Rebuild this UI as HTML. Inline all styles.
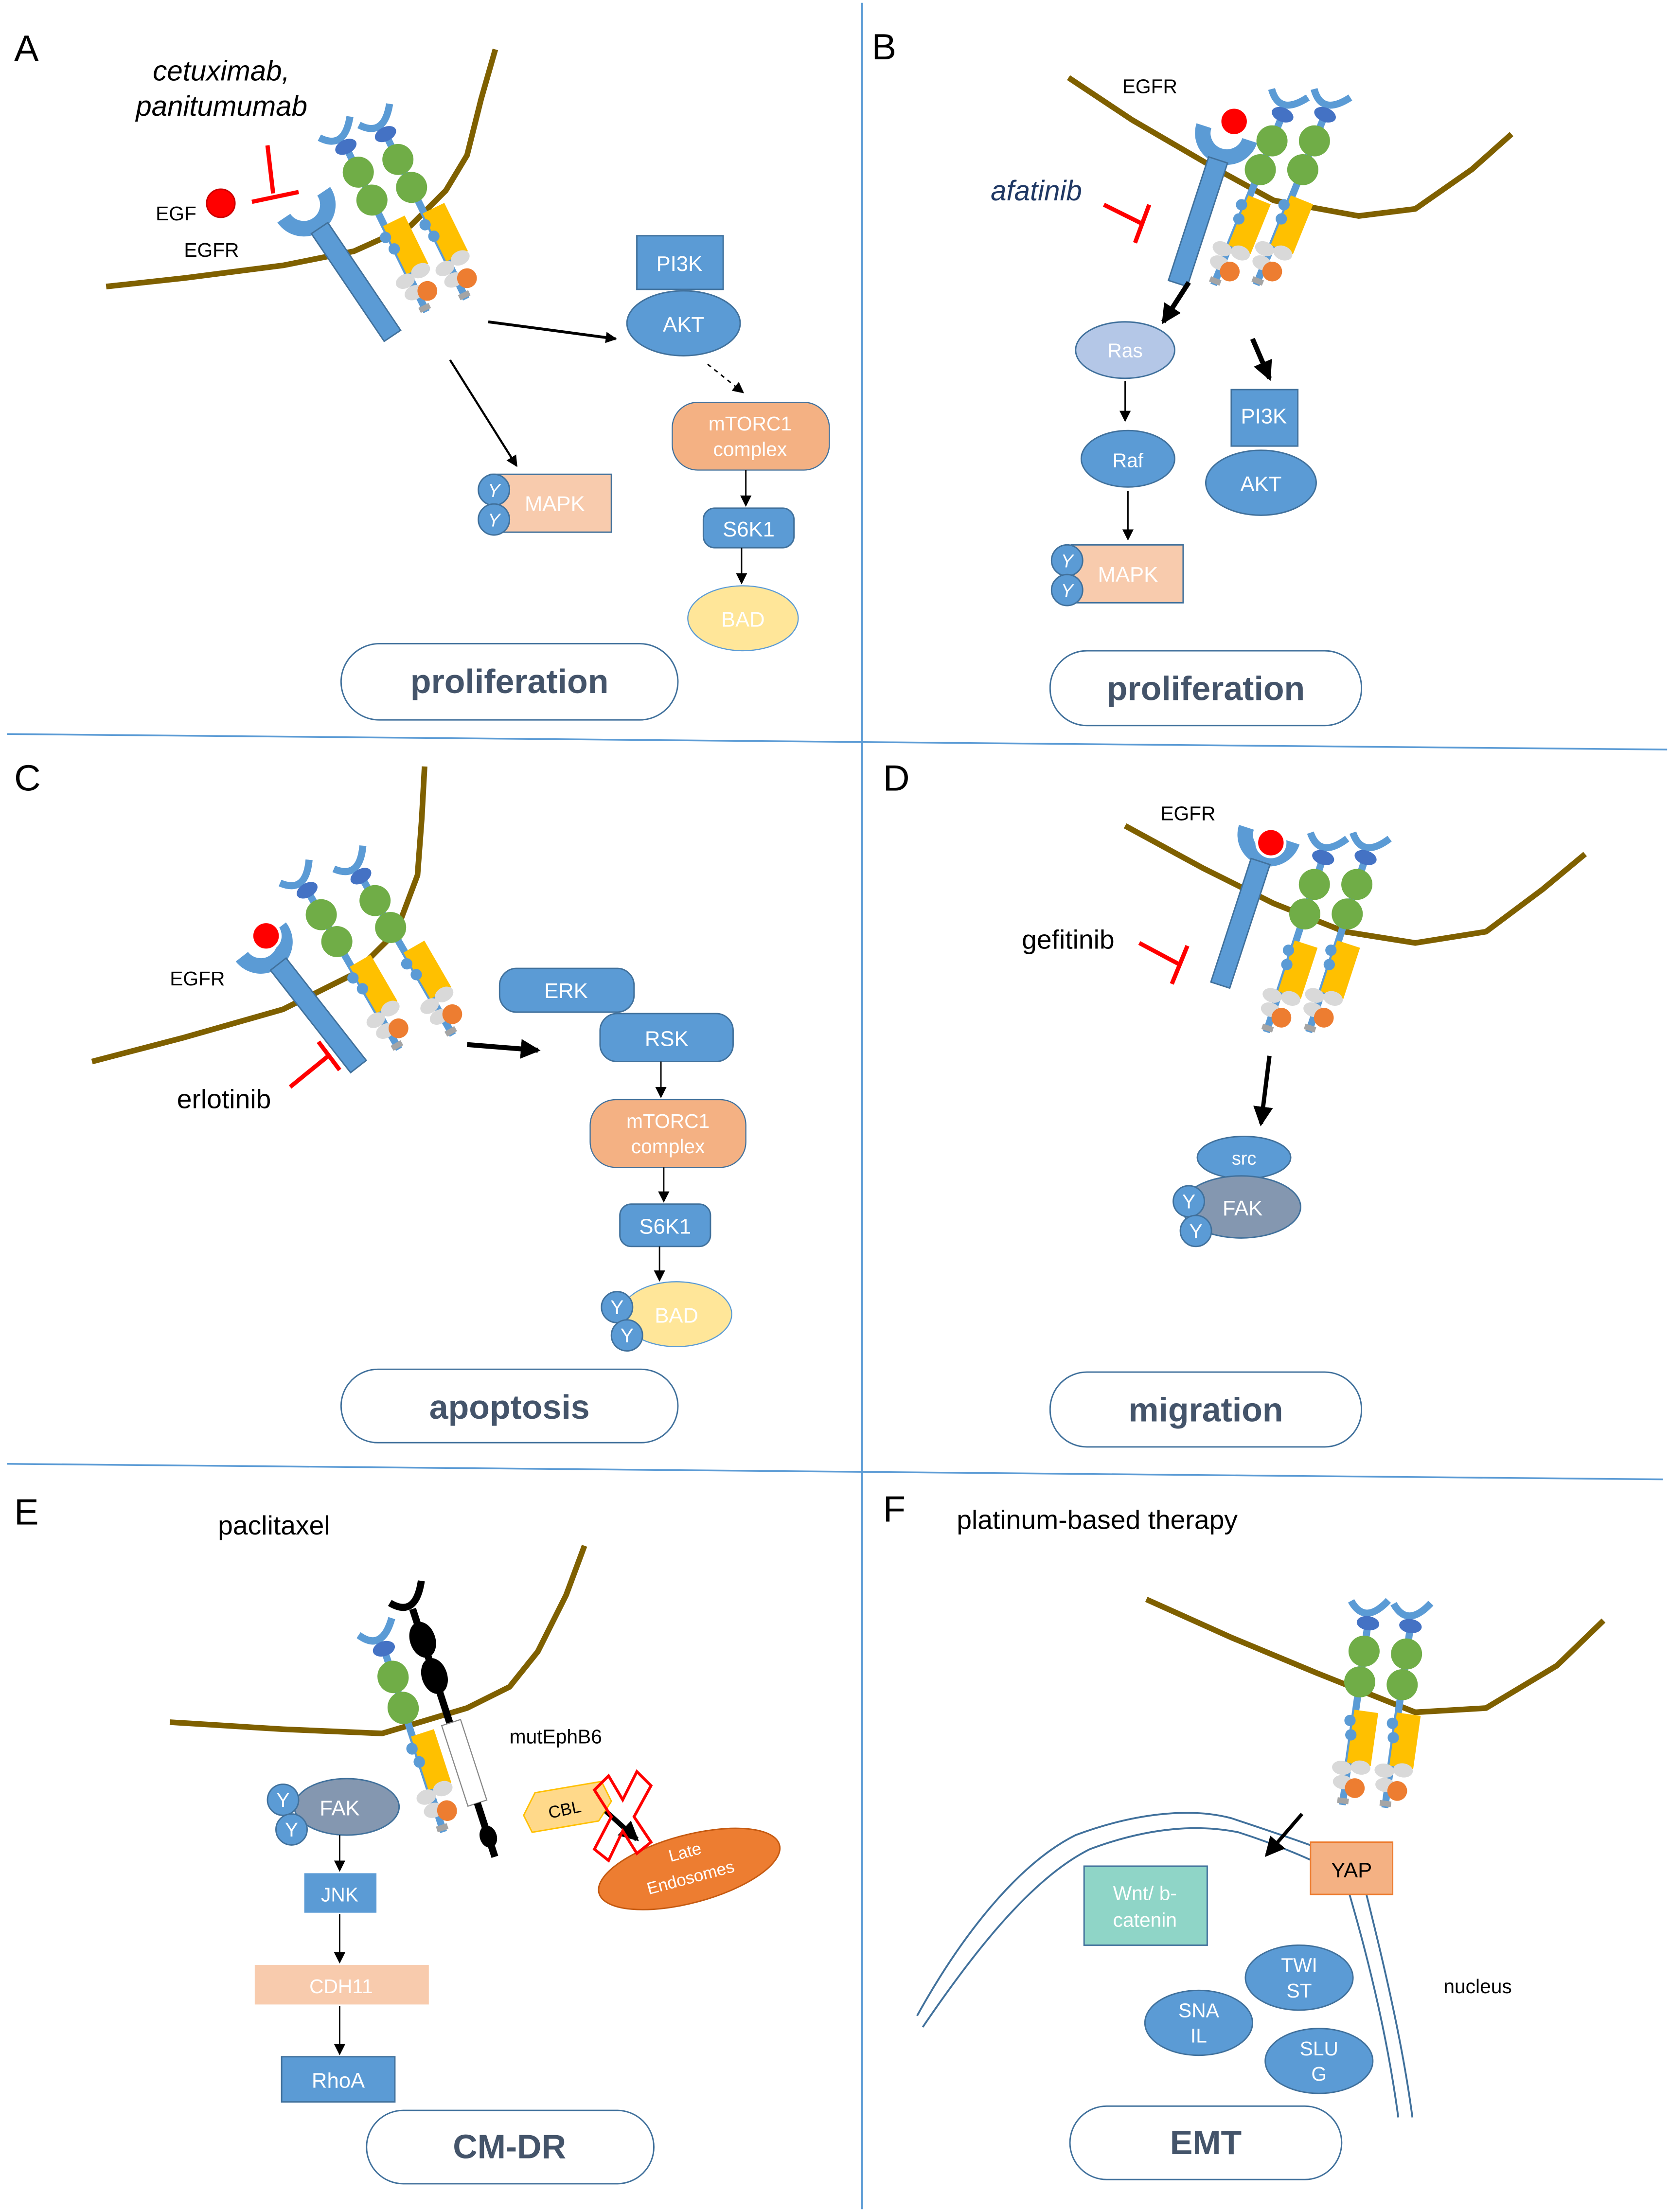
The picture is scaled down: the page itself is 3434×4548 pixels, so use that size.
<!DOCTYPE html>
<html><head><meta charset="utf-8"><style>
html,body{margin:0;padding:0;background:#fff}
svg{display:block}
text{font-family:"Liberation Sans",sans-serif}
</style></head><body>
<svg width="3434" height="4548" viewBox="0 0 1180 1567" preserveAspectRatio="none" xmlns="http://www.w3.org/2000/svg">
<defs>
<marker id="ar" markerWidth="8" markerHeight="8" refX="7" refY="4" orient="auto" markerUnits="userSpaceOnUse"><path d="M0,0 L8,4 L0,8 z" fill="#000"/></marker>
<marker id="arb" markerWidth="14" markerHeight="14" refX="12" refY="7" orient="auto" markerUnits="userSpaceOnUse"><path d="M0,0 L14,7 L0,14 z" fill="#000"/></marker>
<g id="mono">
<path d="M-14,-4 Q-2,12 12,-8" stroke="#5b9bd5" stroke-width="5" fill="none"/>
<line x1="0" y1="8" x2="0" y2="140" stroke="#5b9bd5" stroke-width="5"/>
<ellipse cx="0" cy="10" rx="8" ry="5" fill="#4472c4"/>
<circle cx="0" cy="30" r="11" fill="#70ad47"/>
<circle cx="0" cy="52" r="11" fill="#70ad47"/>
<rect x="-1" y="72" width="17" height="38" fill="#ffc000"/>
<circle cx="-3" cy="80" r="4" fill="#5b9bd5"/><circle cx="-1" cy="90" r="4" fill="#5b9bd5"/>
<ellipse cx="-4" cy="114" rx="7" ry="5" fill="#d9d9d9"/><ellipse cx="9" cy="112" rx="7" ry="5" fill="#d9d9d9"/><ellipse cx="-2" cy="124" rx="7" ry="5" fill="#d9d9d9"/>
<circle cx="7" cy="127" r="7" fill="#ed7d31"/>
<rect x="-4" y="135" width="8" height="4" fill="#a5a5a5"/>
</g>
<g id="egfr">
<path d="M-17,-6 A17,17 0 1 0 17,-6" stroke="#5b9bd5" stroke-width="11" fill="none"/>
<rect x="-7" y="14" width="14" height="92" fill="#5b9bd5" stroke="#41719c" stroke-width="1"/>
</g>
</defs>
<g stroke="#5b9bd5" stroke-width="1.2" fill="none">
<line x1="609" y1="2" x2="609" y2="1565"/>
<line x1="5" y1="520" x2="1178" y2="531"/>
<line x1="5" y1="1037" x2="1175" y2="1048"/>
</g>
<g font-size="26" fill="#000">
<text x="10" y="43">A</text><text x="616" y="42">B</text><text x="10" y="560">C</text><text x="624" y="560">D</text><text x="10" y="1080">E</text><text x="624" y="1078">F</text>
</g>
<g fill="none" stroke="#7f6000" stroke-width="4" stroke-linejoin="round">
<polyline points="75,203 130,197 200,188 250,178 290,160 315,135 330,110 340,70 350,35"/>
<polyline points="755,55 800,85 860,120 900,142 960,153 1000,148 1040,120 1068,95"/>
<polyline points="65,752 130,735 200,715 250,690 280,660 295,620 298,580 300,543"/>
<polyline points="795,585 850,615 900,640 950,660 1000,668 1050,660 1090,630 1120,605"/>
<polyline points="120,1220 200,1225 270,1228 330,1210 360,1195 380,1170 400,1130 413,1095"/>
<polyline points="810,1133 870,1160 930,1185 1000,1213 1050,1210 1100,1180 1133,1148"/>
</g>
<g fill="#fff" stroke="#41719c" stroke-width="1">
<rect x="241" y="456" width="238" height="54" rx="27"/>
<rect x="742" y="461" width="220" height="53" rx="26"/>
<rect x="241" y="970" width="238" height="52" rx="26"/>
<rect x="742" y="972" width="220" height="53" rx="26"/>
<rect x="259" y="1495" width="203" height="52" rx="26"/>
<rect x="756" y="1492" width="192" height="52" rx="26"/>
</g>
<g font-size="24" font-weight="bold" fill="#44546a" text-anchor="middle">
<text x="360" y="491">proliferation</text><text x="852" y="496">proliferation</text>
<text x="360" y="1005">apoptosis</text><text x="852" y="1007">migration</text>
<text x="360" y="1529">CM-DR</text><text x="852" y="1526">EMT</text>
</g>
<!-- Panel A -->
<text x="108" y="57" font-size="20" font-style="italic">cetuximab,</text>
<text x="96" y="82" font-size="20" font-style="italic">panitumumab</text>
<text x="110" y="156" font-size="14">EGF</text>
<circle cx="156" cy="144" r="10" fill="#f00" stroke="#c00"/>
<text x="130" y="182" font-size="14">EGFR</text>
<line x1="189" y1="103" x2="193" y2="137" stroke="#f00" stroke-width="3"/>
<line x1="178" y1="143" x2="211" y2="136" stroke="#f00" stroke-width="3"/>
<use href="#egfr" transform="translate(218,150) rotate(-34)"/>
<use href="#mono" transform="translate(240,95) rotate(-26)"/>
<use href="#mono" transform="translate(268,86) rotate(-26)"/>
<line x1="345" y1="228" x2="435" y2="240" stroke="#000" stroke-width="2" marker-end="url(#ar)"/>
<line x1="318" y1="255" x2="365" y2="330" stroke="#000" stroke-width="1.5" marker-end="url(#ar)"/>
<rect x="450" y="167" width="61" height="38" fill="#5b9bd5" stroke="#41719c"/>
<text x="480" y="192" font-size="15" fill="#fff" text-anchor="middle">PI3K</text>
<ellipse cx="483" cy="229" rx="40" ry="23" fill="#5b9bd5" stroke="#41719c"/>
<text x="483" y="235" font-size="15" fill="#fff" text-anchor="middle">AKT</text>
<line x1="500" y1="258" x2="525" y2="278" stroke="#000" stroke-width="1" stroke-dasharray="3,3" marker-end="url(#ar)"/>
<rect x="475" y="285" width="111" height="48" rx="18" fill="#f4b183" stroke="#41719c" stroke-width="0.8"/>
<text x="530" y="305" font-size="14" fill="#fff" text-anchor="middle">mTORC1</text>
<text x="530" y="323" font-size="14" fill="#fff" text-anchor="middle">complex</text>
<line x1="527" y1="333" x2="527" y2="358" stroke="#000" stroke-width="1" marker-end="url(#ar)"/>
<rect x="497" y="360" width="64" height="28" rx="8" fill="#5b9bd5" stroke="#41719c"/>
<text x="529" y="380" font-size="15" fill="#fff" text-anchor="middle">S6K1</text>
<line x1="524" y1="388" x2="524" y2="413" stroke="#000" stroke-width="1" marker-end="url(#ar)"/>
<ellipse cx="525" cy="438" rx="39" ry="23" fill="#ffe699" stroke="#5b9bd5" stroke-width="0.8"/>
<text x="525" y="444" font-size="15" fill="#fff" text-anchor="middle">BAD</text>
<rect x="347" y="336" width="85" height="41" fill="#f8cbad" stroke="#41719c"/>
<text x="392" y="362" font-size="15" fill="#fff" text-anchor="middle">MAPK</text>
<g fill="#5b9bd5" stroke="#41719c"><circle cx="349" cy="347" r="11"/><circle cx="349" cy="368" r="11"/></g>
<g font-size="13" fill="#fff" font-style="italic" text-anchor="middle"><text x="349" y="352">Y</text><text x="349" y="373">Y</text></g>
<!-- Panel B -->
<text x="793" y="66" font-size="14">EGFR</text>
<use href="#egfr" transform="translate(865,100) rotate(18)"/>
<circle cx="872" cy="86" r="10" fill="#f00" stroke="#fff" stroke-width="2"/>
<use href="#mono" transform="translate(910,72) rotate(22)"/>
<use href="#mono" transform="translate(940,72) rotate(22)"/>
<text x="700" y="142" font-size="20" font-style="italic" fill="#1f3864">afatinib</text>
<line x1="780" y1="145" x2="806" y2="158" stroke="#f00" stroke-width="3"/>
<line x1="812" y1="145" x2="802" y2="172" stroke="#f00" stroke-width="3"/>
<line x1="840" y1="200" x2="822" y2="228" stroke="#000" stroke-width="3.5" marker-end="url(#arb)"/>
<line x1="885" y1="240" x2="897" y2="268" stroke="#000" stroke-width="3.5" marker-end="url(#arb)"/>
<ellipse cx="795" cy="248" rx="35" ry="20" fill="#b4c7e7" stroke="#41719c"/>
<text x="795" y="253" font-size="14" fill="#fff" text-anchor="middle">Ras</text>
<line x1="795" y1="270" x2="795" y2="298" stroke="#000" stroke-width="1" marker-end="url(#ar)"/>
<ellipse cx="797" cy="325" rx="33" ry="20" fill="#5b9bd5" stroke="#41719c"/>
<text x="797" y="331" font-size="14" fill="#fff" text-anchor="middle">Raf</text>
<line x1="797" y1="348" x2="797" y2="382" stroke="#000" stroke-width="1" marker-end="url(#ar)"/>
<rect x="757" y="386" width="79" height="41" fill="#f8cbad" stroke="#41719c"/>
<text x="797" y="412" font-size="15" fill="#fff" text-anchor="middle">MAPK</text>
<g fill="#5b9bd5" stroke="#41719c"><circle cx="754" cy="397" r="11"/><circle cx="754" cy="418" r="11"/></g>
<g font-size="13" fill="#fff" font-style="italic" text-anchor="middle"><text x="754" y="402">Y</text><text x="754" y="423">Y</text></g>
<rect x="870" y="276" width="47" height="40" fill="#5b9bd5" stroke="#41719c"/>
<text x="893" y="300" font-size="15" fill="#fff" text-anchor="middle">PI3K</text>
<ellipse cx="891" cy="342" rx="39" ry="23" fill="#5b9bd5" stroke="#41719c"/>
<text x="891" y="348" font-size="15" fill="#fff" text-anchor="middle">AKT</text>
<!-- Panel C -->
<text x="120" y="698" font-size="14">EGFR</text>
<use href="#egfr" transform="translate(188,672) rotate(-38)"/>
<circle cx="188" cy="663" r="10" fill="#f00" stroke="#fff" stroke-width="2"/>
<use href="#mono" transform="translate(212,622) rotate(-30)"/>
<use href="#mono" transform="translate(250,612) rotate(-30)"/>
<text x="125" y="785" font-size="19">erlotinib</text>
<line x1="205" y1="770" x2="232" y2="748" stroke="#f00" stroke-width="3"/>
<line x1="225" y1="738" x2="240" y2="758" stroke="#f00" stroke-width="3"/>
<line x1="330" y1="740" x2="380" y2="744" stroke="#000" stroke-width="3.5" marker-end="url(#arb)"/>
<rect x="353" y="686" width="95" height="31" rx="12" fill="#5b9bd5" stroke="#41719c"/>
<text x="400" y="707" font-size="15" fill="#fff" text-anchor="middle">ERK</text>
<rect x="424" y="718" width="94" height="34" rx="12" fill="#5b9bd5" stroke="#41719c"/>
<text x="471" y="741" font-size="15" fill="#fff" text-anchor="middle">RSK</text>
<line x1="467" y1="752" x2="467" y2="777" stroke="#000" stroke-width="1" marker-end="url(#ar)"/>
<rect x="417" y="779" width="110" height="48" rx="18" fill="#f4b183" stroke="#41719c" stroke-width="0.8"/>
<text x="472" y="799" font-size="14" fill="#fff" text-anchor="middle">mTORC1</text>
<text x="472" y="817" font-size="14" fill="#fff" text-anchor="middle">complex</text>
<line x1="469" y1="827" x2="469" y2="851" stroke="#000" stroke-width="1" marker-end="url(#ar)"/>
<rect x="438" y="853" width="64" height="30" rx="8" fill="#5b9bd5" stroke="#41719c"/>
<text x="470" y="874" font-size="15" fill="#fff" text-anchor="middle">S6K1</text>
<line x1="466" y1="883" x2="466" y2="907" stroke="#000" stroke-width="1" marker-end="url(#ar)"/>
<ellipse cx="478" cy="931" rx="39" ry="23" fill="#ffe699" stroke="#5b9bd5" stroke-width="0.8"/>
<text x="478" y="937" font-size="15" fill="#fff" text-anchor="middle">BAD</text>
<g fill="#5b9bd5" stroke="#41719c"><circle cx="436" cy="926" r="11"/><circle cx="443" cy="946" r="11"/></g>
<g font-size="14" fill="#fff" text-anchor="middle"><text x="436" y="931">Y</text><text x="443" y="951">Y</text></g>
<!-- Panel D -->
<text x="820" y="581" font-size="14">EGFR</text>
<use href="#egfr" transform="translate(895,597) rotate(18)"/>
<circle cx="898" cy="597" r="10" fill="#f00" stroke="#fff" stroke-width="2"/>
<use href="#mono" transform="translate(938,598) rotate(18)"/>
<use href="#mono" transform="translate(968,598) rotate(18)"/>
<text x="722" y="672" font-size="19">gefitinib</text>
<line x1="805" y1="668" x2="833" y2="683" stroke="#f00" stroke-width="3"/>
<line x1="839" y1="670" x2="828" y2="697" stroke="#f00" stroke-width="3"/>
<line x1="897" y1="748" x2="891" y2="796" stroke="#000" stroke-width="3" marker-end="url(#arb)"/>
<ellipse cx="879" cy="820" rx="33" ry="15" fill="#5b9bd5" stroke="#41719c"/>
<text x="879" y="825" font-size="13" fill="#fff" text-anchor="middle">src</text>
<ellipse cx="877" cy="855" rx="42" ry="22" fill="#8497b0" stroke="#41719c"/>
<text x="878" y="861" font-size="15" fill="#fff" text-anchor="middle">FAK</text>
<g fill="#5b9bd5" stroke="#41719c"><circle cx="840" cy="851" r="11"/><circle cx="845" cy="872" r="11"/></g>
<g font-size="14" fill="#fff" text-anchor="middle"><text x="840" y="856">Y</text><text x="845" y="877">Y</text></g>
<!-- Panel E -->
<text x="154" y="1087" font-size="19">paclitaxel</text>
<use href="#mono" transform="translate(268,1158) rotate(-18) scale(1,1.05)"/>
<g transform="translate(290,1135) rotate(-18)">
<path d="M-14,-4 Q0,12 12,-12" stroke="#000" stroke-width="5" fill="none"/>
<line x1="0" y1="5" x2="0" y2="90" stroke="#000" stroke-width="5"/>
<ellipse cx="0" cy="28" rx="9" ry="13" fill="#000"/>
<ellipse cx="0" cy="55" rx="9" ry="13" fill="#000"/>
<rect x="-6" y="90" width="14" height="60" fill="#fff" stroke="#888" stroke-width="0.8"/>
<line x1="1" y1="150" x2="1" y2="190" stroke="#000" stroke-width="5"/>
<ellipse cx="1" cy="175" rx="6" ry="8" fill="#000"/>
</g>
<text x="360" y="1235" font-size="14">mutEphB6</text>
<path d="M370,1286 L378,1270 L425,1262 L432,1276 L423,1290 L376,1298 z" fill="#ffd98a" stroke="#ffc000"/>
<text x="399" y="1286" font-size="12" text-anchor="middle" transform="rotate(-12 399 1282)">CBL</text>
<ellipse cx="487" cy="1324" rx="66" ry="24" fill="#ed7d31" stroke="#c55a11" transform="rotate(-15 487 1324)"/>
<text x="485" y="1316" font-size="12" fill="#fff" text-anchor="middle" transform="rotate(-15 485 1316)">Late</text>
<text x="489" y="1334" font-size="12" fill="#fff" text-anchor="middle" transform="rotate(-15 489 1334)">Endosomes</text>
<line x1="428" y1="1283" x2="450" y2="1303" stroke="#000" stroke-width="3.5" marker-end="url(#arb)"/>
<path d="M420,1268 L430,1258 L440,1275 L450,1255 L460,1265 L448,1287 L460,1305 L450,1313 L440,1297 L430,1318 L420,1310 L432,1287 z" fill="none" stroke="#f00" stroke-width="2"/>
<ellipse cx="245" cy="1280" rx="37" ry="20" fill="#8497b0" stroke="#41719c"/>
<text x="240" y="1286" font-size="15" fill="#fff" text-anchor="middle">FAK</text>
<g fill="#5b9bd5" stroke="#41719c"><circle cx="200" cy="1275" r="11"/><circle cx="206" cy="1296" r="11"/></g>
<g font-size="14" fill="#fff" text-anchor="middle"><text x="200" y="1280">Y</text><text x="206" y="1301">Y</text></g>
<line x1="240" y1="1300" x2="240" y2="1325" stroke="#000" stroke-width="1" marker-end="url(#ar)"/>
<rect x="215" y="1327" width="51" height="28" fill="#5b9bd5"/>
<text x="240" y="1347" font-size="14" fill="#fff" text-anchor="middle">JNK</text>
<line x1="240" y1="1356" x2="240" y2="1390" stroke="#000" stroke-width="1" marker-end="url(#ar)"/>
<rect x="180" y="1392" width="123" height="28" fill="#f8cbad"/>
<text x="241" y="1412" font-size="14" fill="#fff" text-anchor="middle">CDH11</text>
<line x1="240" y1="1421" x2="240" y2="1455" stroke="#000" stroke-width="1" marker-end="url(#ar)"/>
<rect x="199" y="1457" width="80" height="32" fill="#5b9bd5" stroke="#41719c"/>
<text x="239" y="1479" font-size="15" fill="#fff" text-anchor="middle">RhoA</text>
<!-- Panel F -->
<text x="676" y="1083" font-size="19">platinum-based therapy</text>
<use href="#mono" transform="translate(968,1140) rotate(8)"/>
<use href="#mono" transform="translate(998,1142) rotate(8)"/>
<g fill="none" stroke="#41719c" stroke-width="1.3">
<path d="M648,1428 C680,1370 720,1320 760,1300 C800,1285 840,1280 870,1288 C900,1298 930,1308 960,1320 C975,1380 990,1440 998,1500"/>
<path d="M652,1436 C690,1380 730,1330 770,1310 C810,1295 845,1292 875,1298 C900,1306 930,1318 950,1330 C965,1380 980,1440 988,1500"/>
</g>
<line x1="920" y1="1285" x2="895" y2="1314" stroke="#000" stroke-width="2.5" marker-end="url(#arb)"/>
<rect x="926" y="1305" width="58" height="37" fill="#f4b183" stroke="#ed7d31"/>
<text x="955" y="1330" font-size="15" fill="#000" text-anchor="middle">YAP</text>
<rect x="766" y="1322" width="87" height="56" fill="#8fd5c7" stroke="#41719c"/>
<text x="809" y="1346" font-size="14" fill="#fff" text-anchor="middle">Wnt/ b-</text>
<text x="809" y="1365" font-size="14" fill="#fff" text-anchor="middle">catenin</text>
<g fill="#5b9bd5" stroke="#41719c">
<ellipse cx="918" cy="1401" rx="38" ry="23"/><ellipse cx="847" cy="1433" rx="38" ry="23"/><ellipse cx="932" cy="1460" rx="38" ry="23"/>
</g>
<g font-size="14" fill="#fff" text-anchor="middle">
<text x="918" y="1397">TWI</text><text x="918" y="1415">ST</text>
<text x="847" y="1429">SNA</text><text x="847" y="1447">IL</text>
<text x="932" y="1456">SLU</text><text x="932" y="1474">G</text>
</g>
<text x="1020" y="1412" font-size="14">nucleus</text>
</svg>
</body></html>
